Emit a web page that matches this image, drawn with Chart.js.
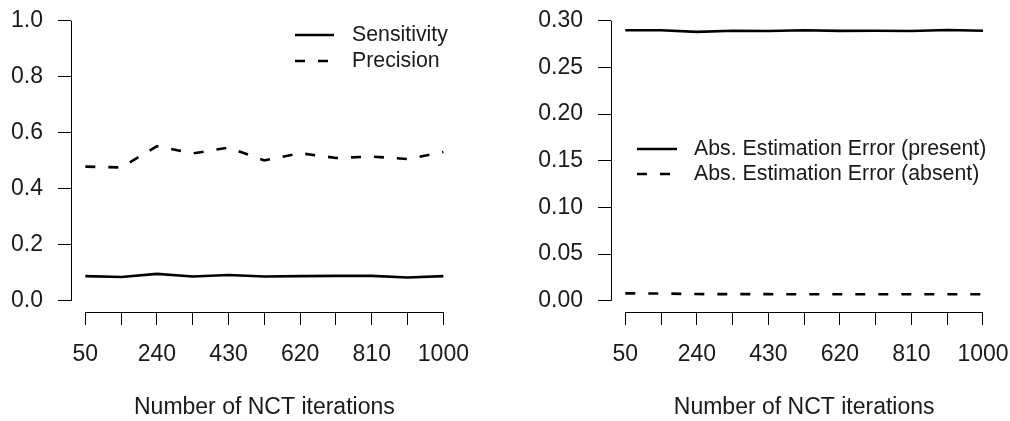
<!DOCTYPE html>
<html>
<head>
<meta charset="utf-8">
<script src="https://cdn.jsdelivr.net/npm/chart.js@4/dist/chart.umd.min.js"></script>
<style>
  html, body { margin: 0; padding: 0; background: #fff; }
  .panel { position: absolute; top: 0; width: 505px; height: 421px; }
  #p1 { left: 0; }
  #p2 { left: 505px; }
</style>
</head>
<body>
<div class="panel" id="p1"><canvas id="c1" width="505" height="421"></canvas></div>
<div class="panel" id="p2"><canvas id="c2" width="505" height="421"></canvas></div>
<script>
// ---- data ----
const iterations = [50, 145, 240, 335, 430, 525, 620, 715, 810, 905, 1000];
const xTickLabels = ['50', '', '240', '', '430', '', '620', '', '810', '', '1000'];

const sensitivity = [0.088, 0.085, 0.096, 0.087, 0.092, 0.087, 0.088, 0.089, 0.089, 0.083, 0.088];
const precision   = [0.479, 0.476, 0.552, 0.526, 0.547, 0.501, 0.527, 0.510, 0.515, 0.506, 0.531];

const errPresent = [0.2897, 0.2897, 0.2880, 0.2893, 0.2890, 0.2897, 0.2891, 0.2893, 0.2890, 0.2900, 0.2893];
const errAbsent  = [0.0080, 0.0078, 0.0072, 0.0071, 0.0071, 0.0070, 0.0070, 0.0070, 0.0070, 0.0070, 0.0070];

const leftYTicks  = [0, 0.2, 0.4, 0.6, 0.8, 1.0];
const rightYTicks = [0, 0.05, 0.10, 0.15, 0.20, 0.25, 0.30];

const xTitle = 'Number of NCT iterations';
const FONT = '"Liberation Sans", Arial, Helvetica, sans-serif';
const TXT = '#1a1a1a';
const AXIS_FONT = 23;

// R-style axis lines (only spanning first..last tick) + legend drawn from datasets
const rAxesPlugin = {
  id: 'rAxes',
  afterDraw(chart, args, opts) {
    const ctx = chart.ctx;
    const xs = chart.scales.x, ys = chart.scales.y;
    const area = chart.chartArea;
    ctx.save();
    ctx.strokeStyle = '#000';
    ctx.lineWidth = 1;
    ctx.setLineDash([]);
    // y axis
    const yx = Math.round(area.left) + 0.5;
    ctx.beginPath();
    ctx.moveTo(yx, ys.getPixelForValue(ys.ticks[0].value));
    ctx.lineTo(yx, ys.getPixelForValue(ys.ticks[ys.ticks.length - 1].value));
    ctx.stroke();
    // x axis
    const xy = Math.round(area.bottom) + 0.5;
    ctx.beginPath();
    ctx.moveTo(xs.getPixelForValue(xs.ticks[0].value), xy);
    ctx.lineTo(xs.getPixelForValue(xs.ticks[xs.ticks.length - 1].value), xy);
    ctx.stroke();

    // legend
    const lg = opts.legend;
    if (lg) {
      ctx.font = lg.fontSize + 'px ' + FONT;
      ctx.textBaseline = 'middle';
      ctx.textAlign = 'left';
      chart.data.datasets.forEach((ds, i) => {
        const y = lg.y + i * lg.rowHeight;
        ctx.strokeStyle = ds.borderColor;
        ctx.lineWidth = ds.borderWidth;
        ctx.lineCap = 'butt';
        ctx.setLineDash(ds.borderDash || []);
        ctx.beginPath();
        ctx.moveTo(lg.x, y);
        ctx.lineTo(lg.x + lg.lineLen, y);
        ctx.stroke();
        ctx.setLineDash([]);
        ctx.fillStyle = TXT;
        ctx.fillText(ds.label, lg.x + lg.lineLen + lg.gap, y);
      });
    }
    ctx.restore();
  }
};

function makeChart(canvasId, series, labels, yTicks, yMin, yMax, decimals, padRight, yWidth, legend) {
  const datasets = series.map((s, i) => ({
    label: labels[i],
    data: iterations.map((x, k) => ({ x: x, y: s[k] })),
    borderColor: '#000',
    borderWidth: 2.6,
    borderDash: i === 1 ? [10, 13] : [],
    pointRadius: 0,
    tension: 0,
    fill: false,
    borderCapStyle: 'butt',
    clip: false
  }));
  return new Chart(document.getElementById(canvasId), {
    type: 'line',
    data: { datasets },
    plugins: [rAxesPlugin],
    options: {
      responsive: false,
      animation: false,
      devicePixelRatio: 1,
      layout: { padding: { top: 9.5, right: padRight, left: 0, bottom: 0 } },
      plugins: {
        legend: { display: false },
        tooltip: { enabled: false },
        rAxes: { legend: legend }
      },
      scales: {
        x: {
          type: 'linear',
          min: 12, max: 1038,
          afterBuildTicks(scale) { scale.ticks = iterations.map(v => ({ value: v })); },
          afterFit(scale) { scale.height = 109; scale.paddingLeft = 0; scale.paddingRight = 0; },
          border: { display: false },
          grid: { drawOnChartArea: false, drawTicks: true, tickLength: 13, color: '#000', lineWidth: 1 },
          ticks: {
            autoSkip: false, maxRotation: 0, padding: 16,
            color: TXT, font: { family: FONT, size: AXIS_FONT },
            callback(value, index) { return xTickLabels[index]; }
          },
          title: {
            display: true, text: xTitle, color: TXT,
            font: { family: FONT, size: AXIS_FONT }, padding: { top: 0, bottom: 0 }
          }
        },
        y: {
          min: yMin, max: yMax,
          afterBuildTicks(scale) { scale.ticks = yTicks.map(v => ({ value: v })); },
          afterFit(scale) { scale.width = yWidth; scale.paddingTop = 0; scale.paddingBottom = 0; },
          border: { display: false },
          grid: { drawOnChartArea: false, drawTicks: true, tickLength: 13, color: '#000', lineWidth: 1 },
          ticks: {
            autoSkip: false, padding: 15,
            color: TXT, font: { family: FONT, size: AXIS_FONT },
            callback(value) { return Number(value).toFixed(decimals); }
          }
        }
      }
    }
  });
}

makeChart('c1', [sensitivity, precision], ['Sensitivity', 'Precision'],
  leftYTicks, -0.04, 1.04, 1, 47.3, 71,
  { x: 295, y: 35, rowHeight: 26, lineLen: 39, gap: 18, fontSize: 21.3 });

makeChart('c2', [errPresent, errAbsent], ['Abs. Estimation Error (present)', 'Abs. Estimation Error (absent)'],
  rightYTicks, -0.012, 0.312, 2, 12.7, 106,
  { x: 132, y: 149, rowHeight: 25, lineLen: 40, gap: 17, fontSize: 21.3 });
</script>
</body>
</html>
